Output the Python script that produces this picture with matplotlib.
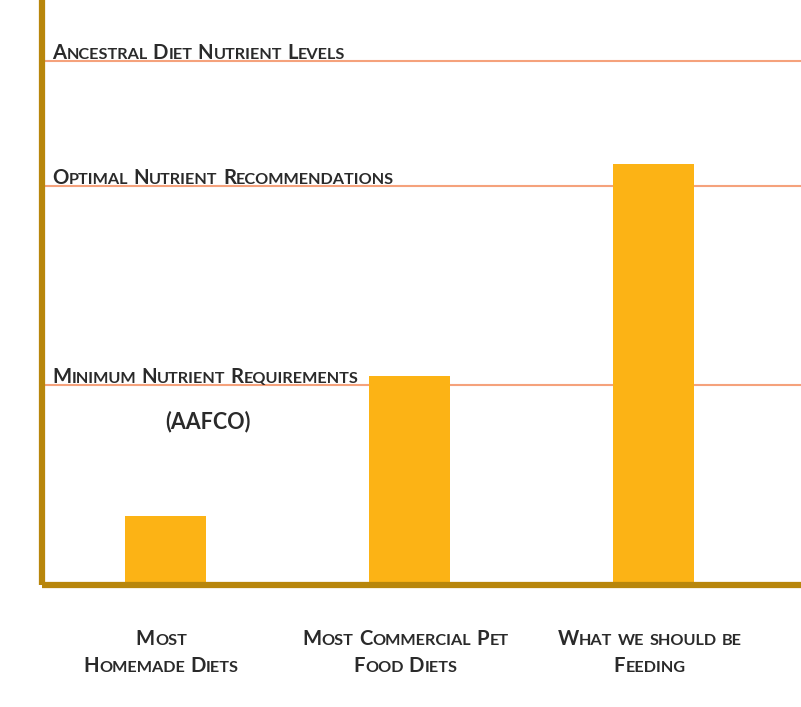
import matplotlib
matplotlib.use('Agg')
import matplotlib.pyplot as plt
from matplotlib.transforms import IdentityTransform

# values (arbitrary units, axis bottom = 0)
categories = ['Most\nHomemade Diets', 'Most Commercial Pet\nFood Diets', 'What we should be\nFeeding']
nutrient_levels = [69, 209, 421]
ref_labels = ['Ancestral Diet Nutrient Levels', 'Optimal Nutrient Recommendations',
              'Minimum Nutrient Requirements']
ref_levels = [524, 399, 200]
ref_note = '(AAFCO)'

BAR = '#FCB315'
SPINE = '#B8860B'
LINE = '#F5A27C'
TXT = '#2a2a2a'
FONT = 'Lato'

W, H = 801, 707
fig = plt.figure(figsize=(W / 100, H / 100), dpi=100)
ax = fig.add_axes([42 / W, (H - 585) / H, (W - 42) / W, 585 / H])

x = range(len(categories))
for lvl in ref_levels:
    ax.axhline(lvl, color=LINE, lw=1.5, zorder=1)
ax.bar(x, nutrient_levels, width=0.33, color=BAR, zorder=2)

ax.set_xlim(-0.506, 2.604)
ax.set_ylim(0, 585)
ax.set_xticks([])
ax.set_yticks([])
for s in ['top', 'right']:
    ax.spines[s].set_visible(False)
for s in ['left', 'bottom']:
    ax.spines[s].set_color(SPINE)
    ax.spines[s].set_linewidth(4.5)
    ax.spines[s].set_capstyle('butt')

renderer = fig.canvas.get_renderer()
ident = IdentityTransform()


def small_caps(xd, yd, s, size, ha='left', ratio=0.8):
    # fake small caps: capitals at full size, lowercase as smaller capitals
    objs = []
    total = 0
    gap = size * 0.24 * fig.dpi / 72
    for wi, word in enumerate(s.split(' ')):
        if wi:
            total += gap
        runs = []
        for ch in word:
            sm = ch.islower()
            if runs and runs[-1][1] == sm:
                runs[-1][0] += ch
            else:
                runs.append([ch, sm])
        for txt, sm in runs:
            t = fig.text(0, 0, txt.upper(), fontsize=size * (ratio if sm else 1),
                         transform=ident, ha='left', va='baseline', color=TXT,
                         family=FONT, weight='bold')
            w = t.get_window_extent(renderer).width
            objs.append((t, total))
            total += w + 0.3
    start = xd - total / 2 if ha == 'center' else xd
    for t, off in objs:
        t.set_x(start + off)
        t.set_y(yd)


x0 = ax.transAxes.transform((0, 0))[0]
for lab, lvl in zip(ref_labels, ref_levels):
    yd = ax.transData.transform((0, lvl))[1] + 2
    small_caps(x0 + 10, yd, lab, 14.6)

ymin = ax.transData.transform((0, ref_levels[-1]))[1]
fig.text(208, ymin - 43, ref_note, transform=ident, ha='center', va='baseline',
         fontsize=15.5, color=TXT, family=FONT, weight='bold')

ybase = ax.transData.transform((0, 0))[1]
for i, cat in enumerate(categories):
    xd = ax.transData.transform((i, 0))[0] - 4
    for j, line in enumerate(cat.split('\n')):
        small_caps(xd, ybase - 60 - 27 * j, line, 14.6, ha='center')

fig.savefig('out.png', dpi=100)
